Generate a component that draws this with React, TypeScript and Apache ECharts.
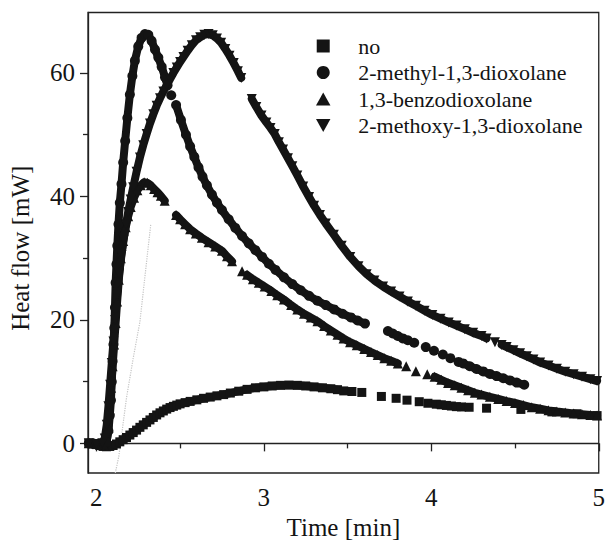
import React, { useEffect, useRef } from "react";
import * as echarts from "echarts";

const seriesNames = [
  "no",
  "2-methyl-1,3-dioxolane",
  "1,3-benzodioxolane",
  "2-methoxy-1,3-dioxolane",
];

const xTickLabels = [2, 3, 4, 5];
const xMinorTicks = [2.5, 3.5, 4.5];
const yTickLabels = [0, 20, 40, 60];
const yMinorTicks = [10, 30, 50];

// each inner array is a contiguous run of measured points; single-point runs are isolated markers
const noRuns: number[][][] = [
  [[1.955,0],[1.98,-0.1],[2.0,-0.2],[2.02,-0.35],[2.04,-0.5],[2.06,-0.55],[2.08,-0.5],[2.1,-0.35],[2.12,-0.1],[2.14,0.25],[2.16,0.6],[2.18,0.95],[2.2,1.35],[2.22,1.75],[2.24,2.15],[2.26,2.6],[2.28,3.0],[2.3,3.4],[2.32,3.8],[2.34,4.2],[2.36,4.6],[2.38,4.95],[2.4,5.25],[2.42,5.55],[2.44,5.8],[2.46,6.0],[2.48,6.2],[2.5,6.4],[2.53,6.6],[2.56,6.8],[2.6,7.05],[2.64,7.3],[2.68,7.5],[2.72,7.7],[2.76,7.9],[2.8,8.15],[2.85,8.45],[2.9,8.75],[2.95,9.0],[3.0,9.15],[3.05,9.3],[3.1,9.4],[3.15,9.45],[3.2,9.4],[3.25,9.3],[3.3,9.15],[3.35,9.0],[3.4,8.85],[3.44,8.7]],
  [[3.477,8.5]],[[3.526,8.4]],[[3.585,8.25]],[[3.702,7.6]],[[3.79,7.3]],[[3.855,7.0]],[[3.928,6.75]],[[3.98,6.5]],
  [[4.03,6.35],[4.06,6.25],[4.09,6.15],[4.12,6.05],[4.15,5.95],[4.18,5.9]],
  [[4.226,5.85]],[[4.33,5.7]],[[4.535,5.5]],[[4.72,5.1]],[[4.87,4.8]],[[4.99,4.5]],
];

const methylRuns: number[][][] = [
  [[1.955,0],[1.98,0],[2.0,-0.1],[2.02,-0.2],[2.04,-0.15],[2.06,0.2],[2.072,2],[2.08,4.5],[2.087,7],[2.092,10],[2.097,13.3],[2.102,16],[2.107,18.7],[2.111,22],[2.115,26],[2.12,29],[2.125,32],[2.132,35.5],[2.14,39],[2.15,42],[2.16,45.5],[2.172,49],[2.185,52.7],[2.2,56.5],[2.215,59.5],[2.23,62],[2.25,64.3],[2.27,65.7],[2.29,66.3],[2.31,66.2],[2.33,65.2],[2.35,63.8],[2.37,62.5],[2.39,61],[2.41,59.3],[2.425,58]],
  [[2.447,56.4]],
  [[2.476,54.8],[2.505,52.4],[2.535,50],[2.56,48.1],[2.585,46.4],[2.61,44.7],[2.634,43.2],[2.66,41.8],[2.69,40.3],[2.72,39],[2.75,37.8],[2.79,36.3],[2.83,34.9],[2.87,33.6],[2.91,32.4],[2.95,31.3],[2.99,30.2],[3.03,29.1],[3.07,28.1],[3.12,26.9],[3.17,25.8],[3.22,24.8],[3.27,23.9],[3.32,23.1],[3.37,22.4],[3.42,21.7],[3.47,21.0],[3.52,20.4],[3.56,19.9],[3.604,19.4]],
  [[3.741,18.2],[3.77,17.8],[3.8,17.4],[3.83,17.0],[3.86,16.7]],
  [[3.898,16.3]],[[3.967,15.6]],[[4.016,15.0]],[[4.069,14.4]],[[4.114,13.8]],[[4.163,13.2]],
  [[4.19,12.95],[4.23,12.5],[4.27,12.05],[4.31,11.65],[4.35,11.25],[4.39,10.9],[4.43,10.55],[4.47,10.2],[4.51,9.85],[4.555,9.5]],
];

const benzoRuns: number[][][] = [
  [[1.955,0],[2.0,-0.1],[2.04,-0.1],[2.062,0.3],[2.072,2.5],[2.08,5.5],[2.088,9],[2.097,12.5],[2.106,16],[2.115,19.5],[2.124,23],[2.134,26.5],[2.146,30],[2.16,32.8],[2.175,35],[2.19,36.8],[2.205,38.3],[2.225,39.8],[2.245,41],[2.265,41.8],[2.285,42.3],[2.305,42.2],[2.325,41.8],[2.345,41.2],[2.365,40.7],[2.385,40.1],[2.408,39.3]],
  [[2.476,37.0],[2.5,36.3],[2.53,35.5],[2.56,34.7],[2.594,34.0],[2.63,33.3],[2.67,32.6],[2.71,31.9],[2.75,31.2],[2.78,30.3],[2.81,29.5]],
  [[2.87,27.9]],
  [[2.9,27.3],[2.935,26.6],[2.97,26.0],[3.005,25.4],[3.045,24.7],[3.08,24.0],[3.12,23.3],[3.163,22.4],[3.2,21.7],[3.24,21.0],[3.28,20.4],[3.32,19.8],[3.36,19.0],[3.4,18.3],[3.44,17.6],[3.476,17.0],[3.515,16.4],[3.555,15.9],[3.6,15.3],[3.64,14.8],[3.68,14.3],[3.72,13.8],[3.76,13.4],[3.8,12.95]],
  [[3.85,12.5]],[[3.908,11.7]],[[3.976,11.2]],
  [[4.02,10.8],[4.06,10.3],[4.1,9.8],[4.14,9.4],[4.18,9.0],[4.22,8.6],[4.26,8.2],[4.3,7.9],[4.35,7.55],[4.4,7.2],[4.45,6.85],[4.5,6.55],[4.55,6.2],[4.6,5.85],[4.65,5.6],[4.7,5.35],[4.75,5.15],[4.8,5.0],[4.85,4.85],[4.9,4.7],[4.95,4.6],[4.99,4.5]],
];

const methoxyRuns: number[][][] = [
  [[1.955,0],[2.0,-0.1],[2.035,0],[2.05,0.8],[2.062,3],[2.072,6],[2.082,9.5],[2.092,13],[2.102,16.5],[2.112,20],[2.124,24],[2.136,27.5],[2.15,30.5],[2.163,33],[2.177,35.5],[2.19,37.5],[2.205,39.5],[2.22,41.5],[2.24,44],[2.26,46.3],[2.28,48.3],[2.3,50.1],[2.32,51.8],[2.34,53.3],[2.36,54.7],[2.38,55.9],[2.4,57.0],[2.42,58.0],[2.44,59.0],[2.46,60.0],[2.48,60.9],[2.5,61.8],[2.52,62.6],[2.545,63.6],[2.57,64.5],[2.595,65.3],[2.62,65.8],[2.645,66.2],[2.67,66.3],[2.695,66.1],[2.72,65.6],[2.745,64.9],[2.77,63.9],[2.795,62.8],[2.82,61.6],[2.845,60.3],[2.865,59.2]],
  [[2.928,55.8],[2.955,54.5],[2.986,53.1],[3.015,52.0],[3.04,51.1],[3.065,50.1],[3.09,48.8],[3.115,47.6],[3.144,46.2],[3.17,44.9],[3.2,43.4],[3.235,41.6],[3.27,39.9],[3.3,38.5],[3.335,37.0],[3.37,35.6],[3.418,33.8],[3.465,32.0],[3.516,30.2],[3.565,28.7],[3.614,27.4],[3.66,26.4],[3.712,25.4],[3.76,24.6],[3.81,23.8],[3.86,23.0],[3.908,22.3],[3.96,21.5],[4.006,20.8],[4.055,20.2],[4.104,19.6],[4.15,19.1],[4.2,18.5],[4.25,17.9],[4.3,17.4],[4.33,17.0]],
  [[4.38,16.4]],
  [[4.42,15.95],[4.45,15.6],[4.49,15.1],[4.53,14.6],[4.57,14.1],[4.61,13.6],[4.65,13.1],[4.7,12.6],[4.75,12.1],[4.8,11.6],[4.85,11.2],[4.9,10.8],[4.95,10.4],[4.99,10.1]],
];

const guideDotted: number[][] = [[2.113,-4.8],[2.134,-2.1],[2.18,7.4],[2.22,13.8],[2.26,19.7],[2.31,31.9],[2.325,35.5]];

const INK = "#141414";
const FONT = "Liberation Serif";

function joinRuns(runs: number[][][]) {
  const out: any[] = [];
  runs.forEach((run, i) => {
    if (i > 0) out.push([run[0][0] - 0.0005, null]);
    run.forEach((p) => out.push(p));
  });
  return out;
}

export default function App() {
  const ref = useRef<HTMLDivElement>(null);
  useEffect(() => {
    document.body.style.margin = "0";
    const chart = echarts.init(ref.current!, undefined, { renderer: "svg" });
    const lineStyleAxis = { color: "#222", width: 1.3 };
    const mk = (name: string, runs: number[][][], symbol: string, size: number, rotate = 0) => ({
      type: "line",
      name,
      data: joinRuns(runs),
      symbol,
      symbolSize: size,
      symbolRotate: rotate,
      showSymbol: true,
      showAllSymbol: true,
      connectNulls: false,
      lineStyle: { width: 8, color: INK, cap: "round", join: "round" },
      itemStyle: { color: INK },
      emphasis: { disabled: true },
      silent: true,
    });
    chart.setOption({
      animation: false,
      backgroundColor: "#fff",
      grid: { left: 84, right: 6, top: 12.5, bottom: 65, show: true, borderColor: "#222", borderWidth: 1.3, containLabel: false },
      legend: {
        orient: "vertical",
        left: 316,
        top: 35,
        padding: 0,
        itemWidth: 60,
        itemHeight: 13,
        itemGap: 4.5,
        selectedMode: false,
        textStyle: { fontSize: 22, fontFamily: FONT, color: INK },
        data: [
          { name: seriesNames[0], icon: "path://M0,0L10,0L10,10L0,10Z" },
          { name: seriesNames[1], icon: "circle" },
          { name: seriesNames[2], icon: "path://M5,0L10,9L0,9Z" },
          { name: seriesNames[3], icon: "path://M0,0L10,0L5,9Z" },
        ],
      },
      xAxis: [
        {
          type: "value", min: 1.95, max: 5, position: "bottom",
          axisLine: { show: true, lineStyle: lineStyleAxis },
          axisTick: { show: true, length: 8, customValues: xTickLabels, lineStyle: lineStyleAxis },
          axisLabel: { customValues: xTickLabels, margin: 12, fontSize: 25, fontFamily: FONT, color: INK },
          splitLine: { show: false },
          name: "Time [min]", nameLocation: "middle", nameGap: 42,
          nameTextStyle: { fontSize: 25, fontFamily: FONT, color: INK },
        },
        {
          type: "value", min: 1.95, max: 5, position: "bottom",
          axisLine: { show: false },
          axisTick: { show: true, length: 5, customValues: xMinorTicks, lineStyle: lineStyleAxis },
          axisLabel: { show: false },
          splitLine: { show: false },
        },
      ],
      yAxis: [
        {
          type: "value", min: -4.8, max: 69.8, position: "left",
          axisLine: { show: true, lineStyle: lineStyleAxis },
          axisTick: { show: true, length: 8, customValues: yTickLabels, lineStyle: lineStyleAxis },
          axisLabel: { customValues: yTickLabels, margin: 13, fontSize: 25, fontFamily: FONT, color: INK },
          splitLine: { show: false },
          name: "Heat flow [mW]", nameLocation: "middle", nameGap: 55,
          nameTextStyle: { fontSize: 25, fontFamily: FONT, color: INK, padding: [0, 11, 0, 0] },
        },
        {
          type: "value", min: -4.8, max: 69.8, position: "left",
          axisLine: { show: false },
          axisTick: { show: true, length: 5, customValues: yMinorTicks, lineStyle: lineStyleAxis },
          axisLabel: { show: false },
          splitLine: { show: false },
        },
      ],
      series: [
        {
          type: "line", name: "guide", data: guideDotted, showSymbol: false, silent: true,
          lineStyle: { width: 1.2, color: "#c4c4c4", type: "dotted" }, z: 1,
        },
        mk(seriesNames[0], noRuns, "rect", 9),
        mk(seriesNames[1], methylRuns, "circle", 10),
        mk(seriesNames[2], benzoRuns, "triangle", 10),
        mk(seriesNames[3], methoxyRuns, "triangle", 10, 180),
      ],
    });
    return () => chart.dispose();
  }, []);
  return <div ref={ref} style={{ position: "fixed", left: 0, top: 0, width: 608, height: 545 }} />;
}
